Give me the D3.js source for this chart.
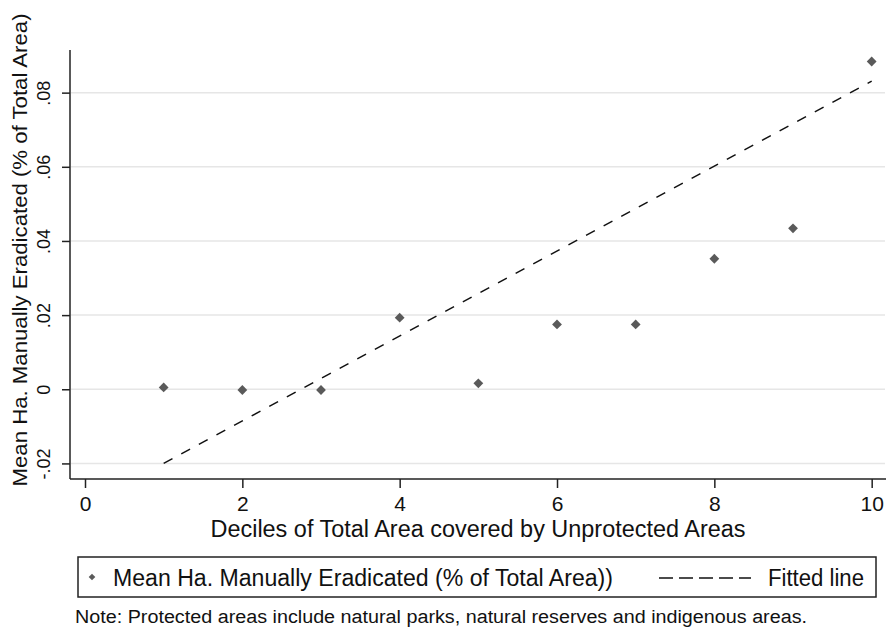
<!DOCTYPE html>
<html>
<head>
<meta charset="utf-8">
<script src="https://cdn.jsdelivr.net/npm/d3@7/dist/d3.min.js"></script>
<style>
  html, body { margin: 0; padding: 0; background: #fff; }
  svg { display: block; }
  text { font-family: "Liberation Sans", Arial, sans-serif; fill: #111; }
</style>
</head>
<body>
<svg id="chart" width="888" height="633"></svg>
<script>
// ---- data ----
const deciles = [1, 2, 3, 4, 5, 6, 7, 8, 9, 10];
const meanEradicated = [0.0005, -0.0002, -0.0002, 0.0193, 0.0016, 0.0175, 0.0175, 0.0352, 0.0434, 0.0884];
const fitX = [1, 10];
const fitY = [-0.0200, 0.0831];
const xTicks = [0, 2, 4, 6, 8, 10];
const yTicks = [-0.02, 0, 0.02, 0.04, 0.06, 0.08];
const yTickLabels = ["-.02", "0", ".02", ".04", ".06", ".08"];
const xTitle = "Deciles of Total Area covered by Unprotected Areas";
const yTitle = "Mean Ha. Manually Eradicated (% of Total Area)";
const legendLabels = ["Mean Ha. Manually Eradicated (% of Total Area))", "Fitted line"];
const note = "Note: Protected areas include natural parks, natural reserves and indigenous areas.";

// ---- layout ----
const svg = d3.select("#chart");
const L = 70, R = 886, T = 50, B = 479;
const x = d3.scaleLinear().domain([-0.1907, 10.182]).range([L, R]);
const y = d3.scaleLinear().domain([-0.0242, 0.0915]).range([B, T]);

// gridlines
svg.append("g").selectAll("line").data(yTicks).join("line")
  .attr("x1", L + 1).attr("x2", R - 1)
  .attr("y1", d => y(d)).attr("y2", d => y(d))
  .attr("stroke", "#e6e6e6").attr("stroke-width", 1.5);

// y axis
const yAxis = d3.axisLeft(y).tickValues(yTicks).tickSize(8).tickFormat("");
const gy = svg.append("g").attr("transform", `translate(${L},0)`).call(yAxis);
gy.select(".domain").attr("d", `M0,${T}V${B}`).attr("stroke", "#222").attr("stroke-width", 1.5);
gy.selectAll(".tick line").attr("stroke", "#222").attr("stroke-width", 1.5);
gy.selectAll(".tick").append("text")
  .attr("transform", "rotate(-90)")
  .attr("x", 0).attr("y", -20)
  .attr("text-anchor", "middle")
  .style("font-size", "18px")
  .style("font-family", "'Liberation Sans', Arial, sans-serif")
  .attr("fill", "#111")
  .text((d, i) => yTickLabels[i]);

// x axis
const xAxis = d3.axisBottom(x).tickValues(xTicks).tickSize(9).tickFormat("");
const gx = svg.append("g").attr("transform", `translate(0,${B})`).call(xAxis);
gx.select(".domain").attr("d", `M${L},0H${R}`).attr("stroke", "#222").attr("stroke-width", 1.5);
gx.selectAll(".tick line").attr("stroke", "#222").attr("stroke-width", 1.5);
gx.selectAll(".tick").append("text")
  .attr("x", 0).attr("y", 32)
  .attr("text-anchor", "middle")
  .style("font-size", "21px")
  .style("font-family", "'Liberation Sans', Arial, sans-serif")
  .attr("fill", "#111")
  .text(d => d3.format("d")(d));

// titles
svg.append("text")
  .attr("x", (L + R) / 2).attr("y", 537)
  .attr("text-anchor", "middle")
  .style("font-size", "23px")
  .attr("textLength", 535).attr("lengthAdjust", "spacingAndGlyphs")
  .text(xTitle);

svg.append("text")
  .attr("transform", "translate(27,250) rotate(-90)")
  .attr("text-anchor", "middle")
  .style("font-size", "21px")
  .attr("textLength", 473).attr("lengthAdjust", "spacingAndGlyphs")
  .text(yTitle);

// fitted line
const line = d3.line().x(d => x(d[0])).y(d => y(d[1]));
svg.append("path")
  .datum(fitX.map((d, i) => [d, fitY[i]]))
  .attr("d", line)
  .attr("fill", "none").attr("stroke", "#111").attr("stroke-width", 1.5)
  .attr("stroke-dasharray", "10,10");

// points
const diamond = d3.symbol().type(d3.symbolSquare).size(48);
svg.append("g").selectAll("path").data(deciles).join("path")
  .attr("d", diamond)
  .attr("transform", (d, i) => `translate(${x(d)},${y(meanEradicated[i])}) rotate(45)`)
  .attr("fill", "#5a5a5a");

// legend
const lg = svg.append("g");
lg.append("rect").attr("x", 78).attr("y", 557).attr("width", 798).attr("height", 40)
  .attr("fill", "#fff").attr("stroke", "#222").attr("stroke-width", 1.5);
lg.append("path").attr("d", d3.symbol().type(d3.symbolSquare).size(22))
  .attr("transform", "translate(92,577) rotate(45)").attr("fill", "#5a5a5a");
lg.append("text").attr("x", 113).attr("y", 586).style("font-size", "23px")
  .attr("textLength", 500).attr("lengthAdjust", "spacingAndGlyphs")
  .text(legendLabels[0]);
lg.append("line").attr("x1", 659).attr("x2", 751).attr("y1", 578).attr("y2", 578)
  .attr("stroke", "#111").attr("stroke-width", 1.5).attr("stroke-dasharray", "14,6");
lg.append("text").attr("x", 768).attr("y", 586).style("font-size", "23px")
  .attr("textLength", 96).attr("lengthAdjust", "spacingAndGlyphs")
  .text(legendLabels[1]);

// note
svg.append("text").attr("x", 75).attr("y", 623).style("font-size", "18px")
  .attr("textLength", 732).attr("lengthAdjust", "spacingAndGlyphs")
  .text(note);
</script>
</body>
</html>
